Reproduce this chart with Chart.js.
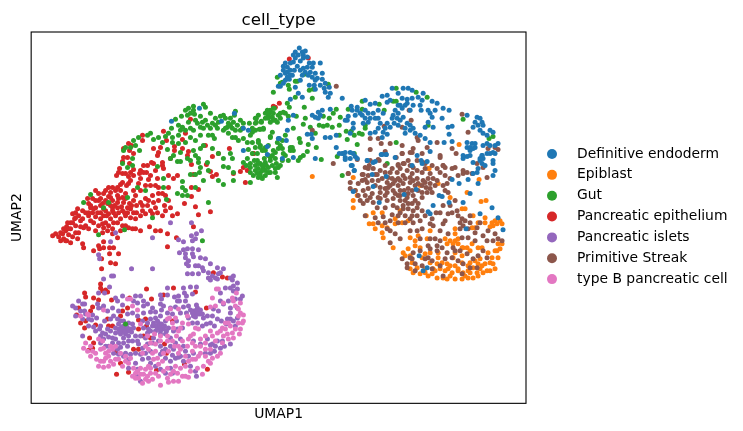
<!DOCTYPE html>
<html>
<head>
<meta charset="utf-8">
<title>cell_type</title>
<script src="https://cdn.jsdelivr.net/npm/chart.js@4/dist/chart.umd.js"></script>
<style>
  html, body { margin: 0; padding: 0; background: #fff; }
  canvas { display: block; }
</style>
</head>
<body>
<canvas id="umap" width="743" height="431"></canvas>
<script>
const categories = ['Definitive endoderm', 'Epiblast', 'Gut', 'Pancreatic epithelium', 'Pancreatic islets', 'Primitive Streak', 'type B pancreatic cell'];
const palette = ['#1f77b4', '#ff7f0e', '#2ca02c', '#d62728', '#9467bd', '#8c564b', '#e377c2'];
// lower numbers are painted last, epithelium sits under the islet cells
const drawOrder = [0, 4, 2, 6, 5, 1, 3];

// embedding coordinates per cell type, flat x,y pairs
const definitiveEndoderm = [
  299,48, 295,52, 302,52, 305,51, 293,55, 303,55, 298,55, 295,58, 300,61, 303,58, 307,57, 293,62, 285,63, 283,66, 287,67, 290,63,
  309,63, 313,63, 320,63, 307,67, 312,67, 283,70, 287,72, 290,70, 292,75, 287,77, 289,79, 285,80, 300,70, 305,72, 310,72, 315,73,
  322,73, 302,75, 312,77, 317,78, 322,79, 300,80, 325,83, 283,83, 280,86, 295,87, 309,85, 314,85, 320,85, 324,88, 329,87, 325,92,
  330,93, 315,89, 298,93, 302,97, 290,99, 328,97, 342,98, 312,115, 318,112, 322,110, 315,117, 320,115, 330,109, 318,118, 293,115,
  288,120, 287,130, 311,134, 307,134, 312,138, 325,137, 330,137, 336,135, 315,158, 279,138, 286,140, 282,158, 293,157, 336,147,
  339,153, 343,153, 350,152, 353,153, 345,157, 357,158, 350,158, 351,165, 354,170, 367,160, 375,161, 381,154, 386,154, 347,120,
  348,116, 345,120, 351,106, 357,107, 352,110, 357,110, 360,113, 355,115, 365,100, 370,104, 375,103, 382,96, 387,95, 392,88, 398,93,
  403,88, 408,88, 412,90, 423,93, 402,98, 407,99, 412,98, 418,97, 422,100, 432,101, 437,103, 387,102, 398,105, 407,103, 413,105,
  420,105, 402,108, 378,110, 373,113, 368,113, 365,118, 370,118, 363,123, 378,118, 383,113, 393,115, 398,113, 392,118, 397,118,
  394,123, 398,125, 387,123, 378,128, 383,132, 387,134, 382,137, 375,132, 370,133, 403,117, 407,123, 405,128, 410,130, 415,133,
  420,135, 413,128, 425,138, 421,110, 428,110, 430,113, 432,117, 428,122, 433,127, 443,108, 449,110, 442,118, 448,127, 452,126,
  449,134, 444,142, 430,142, 353,123, 353,128, 350,133, 477,117, 480,118, 475,122, 482,122, 478,125, 483,125, 473,127, 467,115,
  480,130, 483,133, 490,130, 493,132, 487,135, 498,143, 495,145, 475,147, 467,147, 470,147, 473,148, 470,150, 487,143, 490,145,
  483,145, 482,155, 483,158, 480,160, 490,153, 495,153, 493,163, 482,163, 452,141, 467,142, 472,143, 475,143, 470,155, 463,158,
  342,153, 345,152, 345,159, 355,156, 352,165, 354,170, 367,160, 373,162, 382,154, 386,154, 395,157, 417,155, 421,160, 422,163,
  427,161, 430,151, 412,165, 372,174, 373,186, 353,191, 386,176, 379,202, 404,194, 416,189, 439,195, 442,196, 433,205, 428,211,
  430,213, 449,202, 452,179, 459,183, 468,179, 478,183, 470,193, 463,202, 480,213, 492,207, 498,217, 503,229, 466,228, 419,255,
  427,267, 423,270, 463,155, 467,156, 473,162, 480,158, 485,165, 493,160, 495,170, 493,175, 477,172, 473,173, 478,168, 487,153,
  493,152, 482,155, 199,108, 171,121, 221,121, 234,113, 243,128, 248,130, 278,138, 267,146, 267,154, 243,150, 278,86,
  405,105, 410,110, 390,100, 395,110, 400,105, 375,118, 380,123, 385,128, 390,127, 365,110, 400,120, 405,133, 410,125, 425,127, 362,115,
  368,122, 435,110, 290,75, 294,70, 297,66, 303,68, 308,75, 315,80, 280,75, 285,73
];
const epiblast = [
  353,177, 355,190, 357,195, 353,200, 353,207, 373,212, 366,215, 382,212, 395,218, 373,223, 369,223, 375,228, 382,225, 387,227,
  382,232, 383,237, 395,223, 402,222, 400,210, 408,220, 420,185, 428,168, 438,183, 450,197, 467,192, 481,201, 486,200, 462,208,
  465,208, 473,215, 485,217, 495,220, 500,220, 497,223, 493,225, 490,226, 502,223, 472,227, 475,227, 455,228, 455,233, 458,238,
  455,240, 450,240, 447,243, 453,243, 458,243, 462,247, 498,243, 502,243, 500,248, 495,250, 488,252, 498,257, 490,262, 493,263,
  485,263, 495,268, 490,270, 483,272, 478,275, 473,277, 468,277, 462,278, 455,278, 450,275, 447,278, 443,277, 437,277, 432,273,
  428,275, 420,273, 413,272, 410,268, 438,257, 442,262, 437,263, 433,268, 447,263, 453,257, 462,262, 468,265, 473,267, 477,272,
  482,265, 482,247, 472,243, 430,252, 425,253, 420,247, 415,245, 410,237, 408,248, 403,252, 393,247, 410,255, 422,257, 417,267,
  425,268, 438,252, 450,265, 455,265, 463,272, 470,272, 478,263, 463,247, 467,247, 445,238, 430,230, 427,238, 418,235, 415,240,
  312,176, 429,168, 459,144, 479,179, 440,268, 445,270, 452,272, 458,270, 465,275, 470,262, 475,260, 480,258, 487,270, 492,257, 497,250,
  492,222, 485,222, 478,222, 448,268, 435,270, 425,272, 412,262, 405,255, 430,262, 462,255, 470,250, 478,247, 455,252, 458,268, 468,270, 480,268
];
const gut = [
  193,106, 203,104, 205,107, 188,108, 185,110, 193,110, 190,113, 187,115, 181,116, 194,114, 200,116, 202,122, 210,113, 215,118,
  220,116, 223,115, 225,118, 230,118, 235,111, 234,115, 233,122, 228,123, 227,127, 232,128, 237,125, 240,120, 243,123, 242,128,
  249,123, 255,118, 258,115, 256,122, 261,122, 267,110, 270,110, 269,113, 272,117, 273,120, 270,122, 175,119, 171,128, 178,125,
  182,127, 185,130, 190,128, 193,130, 200,127, 203,128, 207,125, 212,123, 217,128, 212,135, 208,135, 214,138, 223,130, 228,133,
  232,137, 235,137, 238,140, 243,138, 247,142, 260,129, 263,128, 270,136, 248,149, 258,140, 260,145, 255,147, 262,150, 257,153,
  252,153, 247,158, 243,162, 250,163, 257,160, 260,163, 265,162, 270,157, 273,150, 278,148, 275,158, 272,165, 268,167, 263,168,
  260,172, 257,173, 253,175, 258,177, 262,178, 265,175, 270,172, 275,172, 278,167, 277,177, 250,182, 233,180, 233,172, 228,167,
  223,166, 232,158, 230,153, 223,158, 218,153, 207,162, 200,167, 199,172, 203,180, 195,174, 190,174, 218,180, 223,184, 208,170,
  182,181, 182,187, 185,190, 177,193, 182,195, 187,195, 195,187, 150,133, 147,135, 138,137, 133,140, 135,145, 153,139, 162,142,
  168,133, 172,137, 178,135, 172,142, 178,143, 185,142, 190,137, 193,150, 200,148, 203,145, 212,148, 167,149, 173,155, 180,152,
  177,161, 170,158, 180,161, 187,158, 190,160, 195,155, 198,158, 198,162, 139,150, 132,158, 132,165, 127,167, 130,147, 125,147,
  123,150, 122,163, 157,166, 208,202, 163,178, 163,187, 90,194, 83,202, 145,190, 127,197, 137,187, 166,199, 103,207, 108,202,
  152,217, 98,234, 124,229, 202,240, 125,323, 255,165, 258,168, 262,165, 265,170, 268,172, 260,175, 255,170, 250,172, 264,158,
  268,155, 272,155, 275,152, 282,148, 285,155, 290,150, 282,160, 288,160, 280,165, 283,153, 292,147, 276,163, 280,145,
  277,77, 282,82, 280,83, 288,85, 295,81, 297,81, 304,74, 289,89, 273,92, 309,90, 313,89, 312,98, 328,84, 295,97, 289,107, 304,107,
  287,103, 285,113, 288,116, 296,116, 305,118, 303,124, 293,128, 310,127, 315,133, 319,125, 323,116, 323,126, 327,125, 332,127,
  329,118, 333,113, 336,109, 339,125, 340,117, 339,135, 346,131, 351,131, 348,109, 362,101, 362,109, 365,125, 365,128, 359,133,
  362,134, 354,135, 347,139, 357,144, 379,104, 384,110, 393,101, 396,101, 396,88, 416,92, 427,97, 396,142, 387,163, 428,125, 463,119,
  493,136, 489,138, 337,156, 321,159, 316,147, 307,151, 303,155, 300,157, 298,160, 290,147, 293,150, 299,138, 300,142, 308,144,
  270,137, 272,132, 263,129, 259,129, 252,128, 252,132, 256,118, 261,121, 255,123, 258,142, 252,142, 260,147, 265,147,
  268,115, 274,108, 277,122, 280,118, 278,115, 280,113, 283,112, 275,120, 342,175, 354,153,
  262,170, 266,165, 258,163, 254,160, 250,167, 246,165, 275,168, 270,160, 265,150, 268,145, 277,142, 282,140, 285,135, 195,120, 197,123,
  205,120, 215,125, 218,122, 225,128, 230,125, 240,130, 235,130, 250,135, 255,130, 265,118, 273,108, 273,113, 265,113, 268,118, 210,128,
  188,122, 180,130, 165,136, 158,137, 200,135, 195,140
];
const pancreaticEpithelium = [
  273,106, 275,107, 279,103, 289,59, 308,58, 253,153, 190,119, 185,133, 182,139, 163,131, 166,140, 142,135, 142,140, 128,143, 131,145,
  123,148, 129,150, 133,153, 123,157, 127,157, 122,161, 129,163, 119,168, 133,169, 118,172, 116,175, 122,173, 125,173, 128,176, 133,175,
  139,173, 140,170, 143,172, 147,165, 151,162, 153,163, 162,165, 163,168, 162,162, 157,178, 148,179, 140,178, 138,183, 130,180, 128,183,
  122,182, 120,184, 117,187, 112,187, 108,187, 105,190, 110,192, 115,190, 120,190, 117,195, 108,196, 103,193, 98,193, 95,190, 87,198,
  92,198, 100,198, 105,200, 112,200, 117,202, 123,202, 129,203, 133,200, 140,202, 145,198, 148,200, 152,195, 158,193, 162,193, 165,195,
  150,185, 155,185, 158,187, 168,187, 168,175, 173,178, 177,175, 153,148, 160,147, 158,152, 157,155, 174,146, 174,150, 182,148, 188,151,
  187,155, 205,145, 170,158, 191,164, 193,174, 206,164, 212,156, 218,153, 229,148, 210,171, 216,174, 212,176, 233,173, 240,171, 243,167,
  247,170, 245,182, 253,153, 191,187, 198,189, 191,196, 184,203, 195,206, 210,211, 198,214, 170,207, 165,210, 162,215, 172,215, 177,213,
  155,207, 150,210, 142,210, 133,212, 127,212, 122,210, 117,207, 112,207, 107,203, 103,208, 100,212, 103,215, 108,213, 113,212, 95,207,
  90,207, 88,212, 82,210, 77,208, 72,213, 75,217, 52,235, 55,233, 58,236, 60,232, 63,238, 65,230, 68,234, 70,228, 72,236, 66,226, 75,225,
  70,222, 74,218, 78,215, 80,220, 66,240, 60,240, 78,232, 82,218, 85,225, 88,215, 92,212, 90,205, 95,200, 100,205, 105,210, 67,222, 72,222,
  63,228, 68,228, 62,233, 75,232, 65,240, 70,242, 77,238, 82,243, 83,247, 83,227, 93,222, 102,223, 103,227, 108,225, 102,232, 107,230,
  113,222, 117,222, 122,225, 125,225, 128,227, 132,228, 135,228, 140,230, 149,226, 155,230, 160,230, 167,233, 176,237, 167,246, 117,237,
  112,233, 103,241, 98,245, 99,248, 93,250, 103,247, 109,247, 113,247, 109,253, 118,253, 101,258, 110,262, 115,263, 101,268, 100,283,
  100,287, 105,289, 107,291, 102,290, 84,292, 85,296, 93,297, 98,299, 111,299, 146,288, 173,287, 195,291, 163,294, 129,297, 151,298, 78,307,
  92,306, 90,310, 76,314, 122,310, 127,307, 206,307, 107,318, 120,315, 138,319, 145,318, 85,320, 80,322, 95,324, 84,327, 108,325, 112,325,
  146,325, 172,320, 138,328, 143,335, 150,337, 89,337, 93,342, 92,347, 88,349, 133,348, 138,348, 115,351, 166,352, 120,362, 184,363, 116,373,
  128,371, 156,369, 207,368, 213,272, 222,276, 227,277, 164,343, 193,226,
  98,200, 102,203, 110,197, 114,205, 118,198, 121,206, 125,198, 127,207, 131,205, 136,205, 110,205, 106,215, 110,218, 115,215, 120,218,
  125,215, 130,217, 135,218, 140,215, 145,213, 88,203, 93,208, 97,212, 100,218, 105,222, 98,225, 112,210, 118,212, 124,212, 130,208,
  136,212, 142,205, 147,205, 153,202, 158,200, 152,213, 157,212, 164,205, 168,200, 95,216, 90,220, 85,212, 80,226, 75,212, 88,228, 95,230,
  112,228, 120,230, 126,185, 133,190, 140,190, 145,185, 135,195, 125,193, 122,197, 155,170, 150,175, 143,165, 146,172, 130,172
];
const pancreaticIslets = [
  191,222, 170,222, 152,237, 110,241, 98,254, 99,258, 115,232, 201,230, 196,233, 191,235, 195,238, 192,240, 178,239, 183,241, 198,249,
  192,248, 187,248, 183,249, 179,252, 185,253, 192,253, 193,256, 185,257, 188,260, 186,263, 188,265, 200,257, 205,258, 195,265, 198,265,
  202,267, 210,263, 217,267, 131,268, 152,268, 111,275, 113,275, 103,278, 187,273, 192,273, 198,273, 203,270, 208,272, 212,275, 208,277,
  210,279, 215,277, 220,272, 223,268, 218,273, 217,278, 230,277, 233,275, 232,279, 237,282, 233,285, 230,287, 225,287, 220,292, 233,290,
  237,288, 242,295, 240,298, 235,298, 109,286, 104,292, 98,292, 167,287, 183,287, 190,286, 196,286, 184,292, 186,295, 160,294, 167,294,
  161,298, 174,296, 178,295, 177,300, 179,300, 185,300, 192,293, 122,295, 115,297, 117,300, 135,295, 140,295, 133,300, 137,302, 143,300,
  143,305, 147,303, 152,307, 160,303, 163,305, 170,307, 175,306, 183,306, 188,305, 197,307, 198,310, 200,313, 195,312, 193,315, 188,317,
  203,317, 207,315, 213,308, 218,310, 223,303, 230,307, 237,307, 220,300, 228,300, 212,315, 217,318, 227,318, 233,320, 237,317, 230,312,
  82,303, 78,300, 84,303, 75,307, 97,303, 103,305, 102,307, 98,307, 82,318, 88,318, 91,319, 100,325, 99,328, 102,332, 113,315, 117,318,
  120,320, 118,323, 123,320, 128,322, 132,323, 115,327, 118,328, 122,330, 125,328, 130,328, 133,327, 115,332, 120,333, 125,333, 123,337,
  128,340, 128,335, 105,333, 108,336, 112,337, 115,338, 82,335, 100,342, 103,338, 142,320, 147,322, 150,318, 155,317, 160,315, 165,320,
  158,322, 157,327, 155,330, 160,330, 163,328, 168,327, 173,330, 177,328, 182,327, 143,327, 148,328, 153,337, 152,342, 170,337, 175,342,
  180,338, 183,345, 170,345, 173,348, 160,345, 147,343, 142,347, 135,352, 130,353, 120,346, 117,348, 113,352, 125,352, 215,345, 220,347,
  210,344, 230,343, 207,338, 160,353, 165,357, 170,360, 175,357, 142,358, 137,368, 135,362, 128,367, 148,357, 195,370, 196,375, 170,367,
  137,375, 140,380, 193,340, 200,343,
  123,325, 126,326, 128,330, 124,331, 131,331, 127,327, 121,326, 119,331, 193,310, 196,309, 198,313, 195,316, 192,312, 190,309, 200,309,
  202,313, 196,304, 158,325, 161,323, 164,325, 160,327, 157,320, 153,322, 166,330, 165,333, 160,333, 155,325, 152,325, 150,330, 147,332,
  145,337, 140,335, 137,340, 135,335, 138,343, 132,340, 127,345, 123,342, 118,342, 112,342, 108,345, 105,345, 100,335, 95,330, 93,326,
  88,325, 85,313, 80,310, 75,315, 72,305, 84,310, 92,314, 96,317, 107,310, 112,307, 118,310, 122,304, 127,313, 132,312, 137,315, 143,312,
  150,311, 155,311, 161,309, 167,312, 172,313, 176,320, 180,312, 186,312, 192,322, 197,322, 202,325, 206,323, 210,322, 214,325, 221,320,
  226,323, 230,318, 235,325, 222,340, 217,340, 212,343, 205,352, 210,352, 214,350, 224,345, 180,355, 185,350, 188,355, 183,360, 178,356,
  172,354, 165,348, 158,340, 162,350, 150,350, 145,352, 140,353, 128,358, 123,355, 118,353, 150,362, 155,365, 160,368, 165,372, 172,372,
  190,365, 193,352, 110,330, 107,328, 104,320, 110,318
];
const primitiveStreak = [
  333,163, 357,159, 378,159, 348,173, 350,182, 350,188, 358,183, 362,180, 363,174, 368,175, 373,168, 368,168, 375,174, 380,170, 385,165,
  398,164, 403,163, 408,160, 412,152, 402,153, 440,157, 443,165, 437,168, 440,172, 445,167, 452,168, 463,173, 382,178, 378,180, 380,187,
  387,182, 392,178, 397,172, 398,178, 403,175, 407,170, 412,173, 417,170, 422,172, 425,168, 430,173, 437,180, 443,185, 447,183, 388,187,
  393,183, 398,185, 403,183, 410,182, 417,178, 423,180, 430,183, 435,185, 363,190, 368,188, 372,193, 365,195, 358,195, 380,192, 387,192,
  393,190, 400,190, 408,188, 415,185, 430,188, 445,190, 448,192, 360,200, 363,203, 367,200, 373,202, 387,200, 393,198, 400,200, 407,197,
  413,195, 415,200, 412,203, 422,197, 427,192, 377,207, 385,207, 397,207, 403,208, 408,208, 413,210, 417,207, 422,210, 365,215, 375,217,
  383,216, 390,220, 398,215, 405,215, 410,218, 417,215, 440,212, 448,213, 452,212, 457,210, 462,218, 465,220, 470,215, 460,222, 463,225,
  460,228, 470,222, 477,227, 488,230, 495,233, 498,238, 502,240, 493,240, 487,240, 410,230, 417,230, 422,228, 430,223, 433,225, 443,223,
  445,220, 390,230, 395,233, 400,238, 387,228, 390,242, 440,230, 430,238, 420,238, 402,258, 407,263, 410,257, 413,252, 415,263, 425,258,
  428,257, 432,260, 437,245, 442,247, 437,250, 447,252, 453,247, 460,250, 467,253, 473,258, 478,255, 483,250, 487,257, 463,263, 470,267,
  458,260, 452,257, 477,267, 407,267, 430,248, 443,275, 462,273, 336,86, 312,130, 409,110, 411,120, 384,126, 402,127, 417,137, 418,140,
  370,138, 378,138, 381,143, 390,143, 402,145, 413,148, 427,147, 437,142, 370,149, 385,151, 396,157, 402,153, 410,152, 422,153, 440,155,
  452,148, 456,153, 462,114, 468,132, 488,148, 498,149, 495,147, 483,167, 477,163, 487,177, 348,173, 365,167, 379,160, 370,160, 369,165,
  362,174, 365,179, 377,174, 390,172, 398,165, 404,163, 413,167, 423,162, 443,165, 455,167, 463,170, 472,173, 467,172,
  400,180, 405,178, 410,177, 413,180, 418,183, 422,185, 425,182, 428,178, 433,178, 395,180, 390,185, 385,188, 395,193, 400,195, 404,190,
  408,193, 412,190, 418,190, 422,192, 426,187, 432,192, 405,200, 408,203, 403,205, 418,203, 398,195, 385,195, 378,197, 370,197, 355,190,
  375,185, 367,182, 372,180, 385,172, 392,168, 388,177, 400,168, 410,165, 417,160, 425,163, 432,165, 380,198, 393,205, 400,212, 412,215,
  405,222, 398,222, 392,214, 385,222, 378,222, 413,222, 420,220, 425,215, 432,218, 436,212, 443,205, 450,205, 455,200, 445,175, 450,178,
  458,175, 458,215, 468,228, 475,232, 480,222, 483,235, 475,240, 468,237, 462,237, 455,250, 445,258, 440,265, 432,268, 422,265, 415,270,
  412,258, 420,250, 428,245, 435,238, 440,240, 448,233
];
const typeBPancreaticCell = [
  216,288, 218,288, 212,297, 232,297, 233,300, 223,302, 215,305, 210,306, 238,308, 240,312, 243,314, 238,315, 242,322, 238,322, 230,325,
  225,328, 222,327, 227,333, 223,335, 233,337, 239,333, 217,332, 212,335, 205,342, 200,345, 200,352, 205,348, 195,358, 190,335, 188,338,
  192,342, 187,345, 195,327, 198,328, 193,333, 220,352, 217,355, 212,357, 208,360, 203,365, 202,373, 197,367, 192,358, 188,360, 185,355,
  180,348, 178,345, 169,317, 175,317, 173,327, 182,322, 137,309, 132,305, 130,298, 154,333, 160,335, 167,335, 150,342, 155,343, 160,340,
  167,340, 172,340, 148,348, 152,352, 157,357, 162,360, 158,363, 153,358, 167,367, 175,365, 180,367, 177,372, 182,375, 185,375, 188,376,
  178,380, 173,380, 168,381, 160,384, 167,377, 138,377, 142,382, 137,370, 140,367, 145,368, 148,365, 150,367, 143,373, 147,375, 135,377,
  132,375, 133,367, 122,365, 113,363, 108,365, 103,366, 98,365, 100,360, 105,357, 108,355, 112,348, 103,347, 100,348, 95,352, 90,355, 87,350,
  83,347, 105,352, 102,340, 98,338, 110,345, 88,314, 80,315, 87,313, 103,309, 127,298, 140,323, 170,308, 178,308, 187,315, 188,323, 180,327,
  118,358, 125,360, 130,357, 155,350, 163,352, 168,350, 174,345, 178,352, 185,365, 190,370, 173,370, 170,373, 155,372, 152,378, 148,380,
  145,378, 150,372, 158,375, 163,370, 140,373, 135,372, 128,362, 125,355, 115,358, 110,360, 103,360, 96,358, 92,350, 90,345, 85,342,
  108,350, 115,345, 120,352, 210,348, 215,340, 222,342, 228,338, 232,332, 235,328, 228,322, 240,328, 243,320, 220,330, 225,322, 236,292,
  240,302, 235,305, 210,330, 205,335, 200,338, 195,345, 192,350, 198,355, 205,355, 210,362, 182,340, 176,335, 178,330, 172,322, 167,318,
  147,335, 145,345, 142,352
];

const seriesValues = [definitiveEndoderm, epiblast, gut, pancreaticEpithelium, pancreaticIslets, primitiveStreak, typeBPancreaticCell];

const umap1Range = [30.5, 526];
const umap2Range = [32, 402];

function toPoints(flat) {
    const points = [];
    for (let i = 0; i < flat.length; i += 2) {
        points.push({ x: flat[i], y: flat[i + 1] });
    }
    return points;
}

// frame on all four sides, the scales only give two
const frame = {
    id: 'frame',
    afterDatasetsDraw(chart) {
        const { ctx, chartArea: a } = chart;
        ctx.save();
        ctx.strokeStyle = '#000';
        ctx.lineWidth = 1.1;
        ctx.strokeRect(a.left, a.top, a.right - a.left, a.bottom - a.top);
        ctx.restore();
    }
};

// center the title over the axes rather than the whole canvas
const titleOverAxes = {
    id: 'titleOverAxes',
    afterLayout(chart) {
        chart.titleBlock.left = chart.chartArea.left;
        chart.titleBlock.right = chart.chartArea.right;
    }
};

// the built-in legend can't space the marker this far from its text
const sideLegend = {
    id: 'sideLegend',
    afterDraw(chart) {
        const ctx = chart.ctx;
        ctx.save();
        ctx.font = '13.89px "DejaVu Sans"';
        ctx.textBaseline = 'middle';
        categories.forEach((name, i) => {
            const y = 154 + i * 20.85;
            ctx.fillStyle = palette[i];
            ctx.beginPath();
            ctx.arc(552, y, 5, 0, Math.PI * 2);
            ctx.fill();
            ctx.fillStyle = '#000';
            ctx.fillText(name, 577, y);
        });
        ctx.restore();
    }
};

new Chart(document.getElementById('umap'), {
    type: 'scatter',
    data: {
        datasets: categories.map((name, i) => ({
            label: name,
            data: toPoints(seriesValues[i]),
            backgroundColor: palette[i],
            order: drawOrder[i],
            pointRadius: 2.5,
            pointBorderWidth: 0
        }))
    },
    options: {
        responsive: false,
        animation: false,
        layout: { padding: { left: 9, right: 217, top: 0, bottom: 8 } },
        plugins: {
            legend: { display: false },
            tooltip: { enabled: false },
            title: {
                display: true,
                text: 'cell_type',
                color: '#000',
                font: { family: 'DejaVu Sans', size: 16.67, weight: 'normal' },
                padding: { top: 11, bottom: 1 }
            }
        },
        scales: {
            x: {
                type: 'linear',
                min: umap1Range[0],
                max: umap1Range[1],
                ticks: { display: false },
                grid: { display: false },
                border: { display: false },
                title: {
                    display: true,
                    text: 'UMAP1',
                    color: '#000',
                    font: { family: 'DejaVu Sans', size: 13.89 },
                    padding: { top: -5, bottom: 0 }
                }
            },
            y: {
                type: 'linear',
                reverse: true,
                min: umap2Range[0],
                max: umap2Range[1],
                ticks: { display: false },
                grid: { display: false },
                border: { display: false },
                title: {
                    display: true,
                    text: 'UMAP2',
                    color: '#000',
                    font: { family: 'DejaVu Sans', size: 13.89 },
                    padding: { top: 0, bottom: -2.5 }
                }
            }
        }
    },
    plugins: [frame, titleOverAxes, sideLegend]
});
</script>
</body>
</html>
